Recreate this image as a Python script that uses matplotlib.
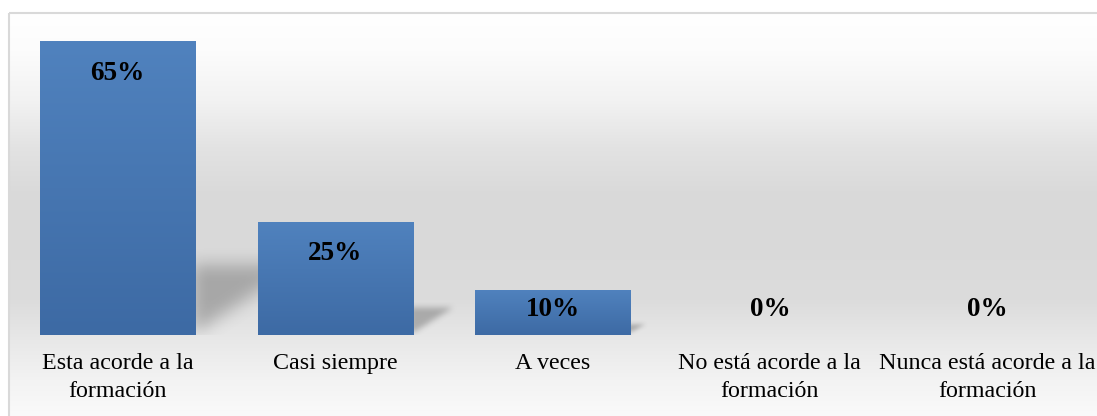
import numpy as np
import matplotlib
matplotlib.use('Agg')
import matplotlib.pyplot as plt
from matplotlib.path import Path
from matplotlib.patches import Rectangle

categories = ["Esta acorde a la\nformación", "Casi siempre", "A veces",
              "No está acorde a la\nformación", "Nunca está acorde a la\nformación"]
values = [65, 25, 10, 0, 0]
value_labels = ["65%", "25%", "10%", "0%", "0%"]

W, H = 1097, 416
plt.rcParams['font.family'] = ['Liberation Serif', 'DejaVu Serif']
fig = plt.figure(figsize=(W / 100, H / 100), dpi=100)

# background: white -> gray -> white vertical gradient inside a light border
bg = fig.add_axes([0, 0, 1, 1])
bg.set_xlim(0, W)
bg.set_ylim(H, 0)
bg.axis('off')
stop_y = [13, 50, 100, 150, 190, 240, 300, 340, 380, 416]
stop_g = [255, 252, 242, 226, 218, 217, 220, 232, 243, 250]
rows = np.interp(np.arange(13, H), stop_y, stop_g)
bg_img = np.repeat(rows[:, None, None], 3, axis=2) / 255.0
bg.imshow(bg_img, extent=(9, W, H, 13), aspect='auto', interpolation='nearest')
bg.add_patch(Rectangle((8.5, 12.5), W, H, fill=False, edgecolor='#d9d9d9', lw=1.5))

# main plot area
base_px, top_px = 335, 12
ax = fig.add_axes([9 / W, (H - base_px) / H, 1087 / W, (base_px - top_px) / H])
ax.patch.set_alpha(0)
ymax = 71.46
sx = 1087 / 5
sy = (base_px - top_px) / ymax
width = 0.713
x = np.arange(len(categories))

bars = ax.bar(x, values, width=width, color='#4a7bb7', zorder=3)

top_c = np.array([80, 130, 190]) / 255
bot_c = np.array([61, 106, 164]) / 255
t = np.linspace(0, 1, 100)[:, None]
grad = (top_c * (1 - t) + bot_c * t)[:, None, :]


def box_blur(a, k):
    ker = np.ones(k) / k
    a = np.apply_along_axis(lambda r: np.convolve(r, ker, mode='same'), 0, a)
    a = np.apply_along_axis(lambda r: np.convolve(r, ker, mode='same'), 1, a)
    return a


for i, (b, v) in enumerate(zip(bars, values)):
    if v <= 0:
        continue
    x0 = b.get_x()
    x1 = x0 + b.get_width()
    im = ax.imshow(grad, extent=(x0, x1, 0, v), aspect='auto', zorder=3.5,
                   interpolation='bilinear')
    im.set_clip_path(b)

    # soft perspective shadow behind the bar
    hp = v * sy
    us = np.arange(-10, 0.38 * hp + 30)
    vs = np.arange(0, 0.26 * hp + 30)
    U, V = np.meshgrid(us, vs)
    poly = Path([(-4, 2), (-4, 0.24 * hp), (0.35 * hp, 0.24 * hp), (0, 2)])
    mask = poly.contains_points(np.c_[U.ravel(), V.ravel()]).reshape(U.shape).astype(float)
    k = max(5, int(hp * 0.065) | 1)
    mask = box_blur(box_blur(mask, k), k)
    rgba = np.zeros(mask.shape + (4,))
    rgba[..., :3] = 0.38
    rgba[..., 3] = 0.42 * mask
    ax.imshow(rgba[::-1], extent=(x1 + us[0] / sx, x1 + us[-1] / sx, 0, vs[-1] / sy),
              aspect='auto', zorder=2, interpolation='bilinear')

for i, (v, lab) in enumerate(zip(values, value_labels)):
    y = max(v - 32 / sy, 25 / sy)
    ax.text(i, y, lab, ha='center', va='center', fontsize=19.5, fontweight='bold',
            color='black', zorder=5)

for i, cat in enumerate(categories):
    ax.text(i, -18 / sy, cat, ha='center', va='top', fontsize=17.3, color='black',
            linespacing=1.45, clip_on=False)

ax.set_xlim(-0.5, 4.5)
ax.set_ylim(0, ymax)
ax.axis('off')

fig.savefig('out.png', dpi=100)
